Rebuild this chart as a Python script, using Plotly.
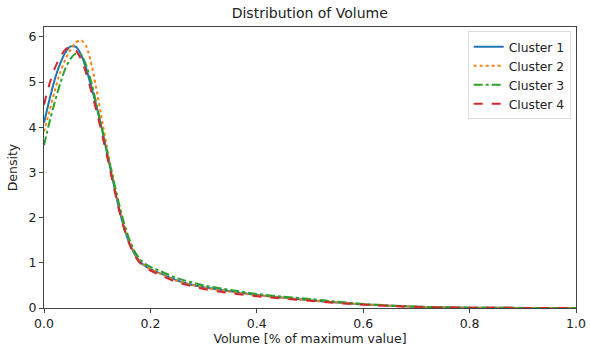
import plotly.graph_objects as go

x_vals = [0, 0.01, 0.02, 0.03, 0.04, 0.05, 0.06, 0.07, 0.08, 0.09, 0.10, 0.11, 0.12, 0.13,
          0.14, 0.15, 0.16, 0.17, 0.18, 0.19, 0.20, 0.22, 0.25, 0.30, 0.35, 0.40, 0.45, 0.50,
          0.55, 0.60, 0.65, 0.70, 0.75, 0.80, 0.90, 1.00]

cluster1 = [4.1, 4.6, 5.05, 5.4, 5.65, 5.79, 5.78, 5.6, 5.27, 4.85, 4.4, 3.9, 3.35, 2.8,
            2.25, 1.8, 1.45, 1.2, 1.03, 0.93, 0.86, 0.76, 0.61, 0.46, 0.37, 0.29, 0.23, 0.17,
            0.12, 0.08, 0.05, 0.03, 0.015, 0.008, 0.002, 0.0]
cluster2 = [3.9, 4.35, 4.8, 5.2, 5.5, 5.72, 5.88, 5.93, 5.78, 5.35, 4.75, 4.1, 3.45, 2.88,
            2.32, 1.86, 1.5, 1.23, 1.05, 0.94, 0.86, 0.75, 0.6, 0.45, 0.36, 0.28, 0.22, 0.17,
            0.12, 0.08, 0.05, 0.028, 0.014, 0.007, 0.002, 0.0]
cluster3 = [3.6, 4.1, 4.55, 4.95, 5.3, 5.52, 5.63, 5.6, 5.35, 4.95, 4.45, 3.92, 3.38, 2.86,
            2.35, 1.9, 1.53, 1.26, 1.08, 0.98, 0.91, 0.81, 0.66, 0.5, 0.4, 0.31, 0.25, 0.2,
            0.14, 0.09, 0.055, 0.03, 0.016, 0.008, 0.002, 0.0]
cluster4 = [4.5, 4.95, 5.3, 5.55, 5.72, 5.78, 5.7, 5.5, 5.17, 4.75, 4.3, 3.8, 3.28, 2.74,
            2.22, 1.78, 1.43, 1.17, 1.0, 0.9, 0.83, 0.72, 0.57, 0.42, 0.33, 0.26, 0.21, 0.16,
            0.11, 0.075, 0.045, 0.025, 0.012, 0.006, 0.002, 0.0]

names = ["Cluster 1", "Cluster 2", "Cluster 3", "Cluster 4"]
series = [cluster1, cluster2, cluster3, cluster4]
colors = ["#1f77b4", "#ff7f0e", "#2ca02c", "#d62728"]
dashes = ["solid", "dot", "dashdot", "dash"]

fig = go.Figure()
for n, s, c, d in zip(names, series, colors, dashes):
    fig.add_trace(go.Scatter(x=x_vals, y=s, mode="lines", name=n,
                             line=dict(color=c, dash=d, width=2, shape="spline", smoothing=0.6)))

axis_common = dict(showgrid=False, zeroline=False, showline=True, linecolor="#444",
                   linewidth=1, mirror=True, ticks="outside", ticklen=4, tickcolor="#444",
                   automargin=False, tickfont=dict(size=12.5, color="#222"))

fig.update_layout(
    width=590, height=347,
    margin=dict(l=44, r=14, t=27, b=39),
    paper_bgcolor="white", plot_bgcolor="white",
    font=dict(family="DejaVu Sans", color="#222"),
    title=dict(text="Distribution of Volume", x=0.525, xanchor="center", y=0.961,
               yanchor="middle", font=dict(size=14)),
    xaxis=dict(range=[0, 1], tickvals=[0, 0.2, 0.4, 0.6, 0.8, 1.0],
               ticktext=["0.0", "0.2", "0.4", "0.6", "0.8", "1.0"],
               title=dict(text="Volume [% of maximum value]", font=dict(size=12.5), standoff=2),
               **axis_common),
    yaxis=dict(range=[0, 6.22], tickvals=[0, 1, 2, 3, 4, 5, 6],
               title=dict(text="Density", font=dict(size=12.5), standoff=8),
               **axis_common),
    legend=dict(x=0.99, y=0.985, xanchor="right", yanchor="top",
                bgcolor="rgba(255,255,255,0.8)", bordercolor="#ddd", borderwidth=1,
                font=dict(size=12.3), tracegroupgap=0, itemwidth=30),
)

fig.write_html("out.html", config={"displayModeBar": False},
               post_script="document.body.style.margin='0px';")
